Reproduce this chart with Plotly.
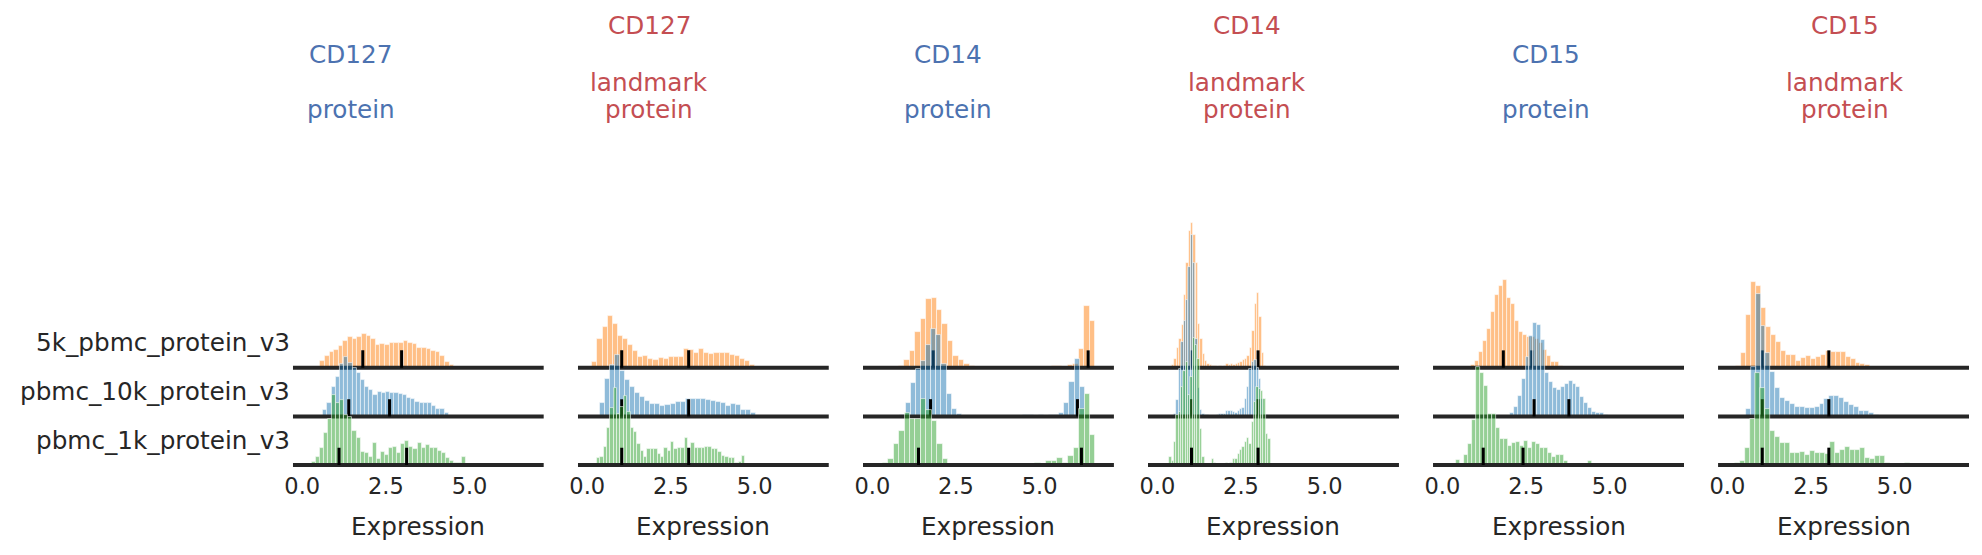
import plotly.graph_objects as go

# ---------------- data ----------------
MARKERS = ["CD127", "CD127", "CD14", "CD14", "CD15", "CD15"]
KINDS = ["protein", "landmark protein", "protein", "landmark protein", "protein", "landmark protein"]
SAMPLES = ["5k_pbmc_protein_v3", "pbmc_10k_protein_v3", "pbmc_1k_protein_v3"]
TICK_VALS = [0, 2.5, 5.0]
TICK_TEXT = ["0.0", "2.5", "5.0"]

# each histogram: (first bin edge, bin width, counts)
# CD127 protein
cd127_p_5k = (0.40, 0.138, [2, 20, 35, 46, 54, 65, 80, 93, 87, 93, 101, 96, 87, 69, 71, 69, 74, 74, 74, 81,
                            74, 71, 60, 60, 57, 50, 46, 35, 17, 7, 2])
cd127_p_10k = (0.50, 0.125, [2, 20, 41, 89, 118, 158, 180, 160, 145, 132, 110, 90, 80, 65, 73, 70, 73, 70, 71, 68,
                             65, 55, 53, 45, 41, 41, 41, 32, 23, 23, 10, 2])
cd127_p_1k = (0.28, 0.1216, [10, 25, 50, 95, 137, 210, 185, 195, 150, 145, 102, 80, 40, 35, 25, 65, 17, 40, 29, 52,
                             55, 35, 64, 73, 55, 47, 65, 52, 59, 50, 52, 42, 37, 22, 12, 7, 7, 25])
# CD127 landmark protein
cd127_l_5k = (0.15, 0.152, [17, 87, 122, 155, 132, 95, 87, 69, 50, 32, 35, 26, 24, 30, 27, 32, 32, 32, 57, 53,
                            44, 57, 44, 41, 44, 44, 44, 39, 36, 27, 20, 8, 2])
cd127_l_10k = (0.22, 0.151, [2, 41, 113, 155, 185, 138, 110, 89, 72, 60, 47, 39, 39, 32, 36, 39, 45, 45, 53, 53,
                             53, 53, 50, 47, 45, 41, 32, 39, 36, 20, 20, 12, 2])
cd127_l_1k = (0.28, 0.101, [20, 24, 55, 110, 170, 230, 152, 175, 207, 160, 110, 100, 62, 42, 24, 47, 47, 47, 32, 24,
                            52, 42, 69, 47, 50, 50, 80, 42, 65, 50, 52, 50, 55, 55, 47, 47, 38, 27, 24, 20,
                            20, 6, 8, 27])
# CD14 protein
cd14_p_5k = (0.79, 0.163, [4, 22, 49, 107, 145, 205, 208, 172, 130, 79, 34, 22, 10, 4, 0, 0, 0, 0, 0, 0,
                           0, 0, 0, 0, 0, 0, 0, 0, 4, 4, 0, 7, 10, 55, 184, 139])
cd14_p_10k = (0.84, 0.153, [5, 40, 100, 143, 168, 215, 263, 245, 158, 68, 23, 8, 2, 0, 0, 0, 0, 0, 0, 0,
                            0, 0, 0, 0, 4, 4, 2, 4, 2, 4, 4, 12, 40, 105, 173, 90])
cd14_p_1k = (0.31, 0.163, [7, 17, 62, 102, 157, 137, 137, 197, 164, 132, 62, 17, 4, 0, 0, 0, 0, 4, 0, 0,
                           0, 0, 0, 0, 0, 0, 0, 0, 7, 4, 12, 12, 22, 7, 27, 52, 167, 214, 89])
# CD14 landmark protein
cd14_l_5k = (0.44, 0.0704, [8, 25, 59, 87, 127, 217, 314, 409, 434, 397, 314, 130, 85, 42, 20, 12, 8, 6, 4, 2,
                            5, 3, 6, 10, 8, 12, 8, 10, 14, 18, 22, 25, 34, 60, 110, 190, 224, 152, 44, 5])
cd14_l_10k = (0.50, 0.0704, [7, 49, 144, 224, 286, 349, 449, 544, 461, 234, 86, 19, 7, 4, 4, 2, 2, 2, 4, 7,
                             7, 9, 17, 17, 17, 14, 12, 17, 24, 26, 54, 89, 144, 164, 171, 146, 114, 54, 6, 4])
cd14_l_1k = (0.354, 0.0704, [24, 12, 69, 149, 159, 234, 282, 309, 209, 264, 382, 359, 319, 109, 24, 0, 0, 0, 19, 6,
                             0, 0, 0, 0, 6, 0, 6, 19, 19, 32, 46, 54, 69, 82, 64, 129, 189, 234, 227, 221,
                             199, 92, 79])
# CD15 protein
cd15_p_5k = (0.854, 0.120, [7, 19, 46, 79, 115, 167, 217, 245, 262, 208, 190, 140, 107, 97, 92, 92, 87, 75, 54, 34,
                            17, 17, 5])
cd15_p_10k = (1.90, 0.117, [2, 12, 30, 63, 113, 180, 242, 282, 275, 230, 132, 105, 87, 80, 90, 97, 108, 97, 90, 60,
                            42, 25, 15, 12, 10, 5, 2])
cd15_p_1k = (0.418, 0.119, [14, 0, 30, 62, 135, 294, 275, 237, 152, 152, 110, 77, 77, 57, 65, 69, 57, 72, 50, 69,
                            62, 52, 52, 37, 25, 29, 29, 12, 0, 0, 0, 0, 0, 12])
# CD15 landmark protein
cd15_l_5k = (0.253, 0.149, [4, 44, 157, 257, 245, 179, 122, 97, 77, 50, 38, 38, 20, 29, 35, 26, 32, 38, 50, 47,
                            47, 47, 32, 26, 14, 11, 8])
cd15_l_10k = (0.55, 0.147, [23, 148, 368, 273, 190, 135, 85, 55, 47, 38, 30, 30, 27, 27, 30, 38, 52, 63, 63, 55,
                            44, 35, 30, 18, 18, 12, 5, 2, 2])
cd15_l_1k = (0.233, 0.149, [7, 12, 52, 137, 277, 232, 167, 102, 85, 65, 65, 37, 35, 40, 30, 42, 37, 35, 32, 70,
                            35, 45, 55, 45, 45, 52, 22, 19, 27, 27, 7, 0, 0, 0, 7])

HISTS = [
    [cd127_p_5k, cd127_p_10k, cd127_p_1k],
    [cd127_l_5k, cd127_l_10k, cd127_l_1k],
    [cd14_p_5k, cd14_p_10k, cd14_p_1k],
    [cd14_l_5k, cd14_l_10k, cd14_l_1k],
    [cd15_p_5k, cd15_p_10k, cd15_p_1k],
    [cd15_l_5k, cd15_l_10k, cd15_l_1k],
]

# two reference (median) marks per sample and panel
MARKS = [
    [[1.81, 2.97], [1.39, 2.61], [1.10, 3.12]],
    [[1.03, 3.03], [1.03, 3.03], [1.03, 3.03]],
    [[1.82, 6.45], [1.74, 6.13], [1.38, 6.25]],
    [[1.02, 3.01], [1.02, 3.01], [1.02, 3.01]],
    [[1.82, 2.67], [2.74, 3.78], [1.22, 2.41]],
    [[1.04, 3.03], [1.04, 3.03], [1.04, 3.03]],
]

# ---------------- style / layout ----------------
W, H = 1982, 555
FONT = "DejaVu Sans"
TEXT = "#262626"
BLUE_T = "#4C72B0"
RED_T = "#C44E52"
FILLS = ["rgba(255,127,14,0.5)", "rgba(31,119,180,0.5)", "rgba(44,160,44,0.5)"]
X_RANGE = [-0.28, 7.22]
PANEL_X0, PANEL_STEP, PANEL_W = 286, 286.2, 252
BASE_PX = [367.7, 416.5, 465.0]
DOM_BOTTOM_PX = 470
COUNTS_PER_PX = 3.0
MARK_H = 52
TITLE_X0, TITLE_STEP = 344, 300.0
LABEL_SIZE = 24.7
TICK_SIZE = 22.5


def py(p):
    return 1 - p / H


fig = go.Figure()
layout = dict(
    width=W, height=H, margin=dict(l=0, r=0, t=0, b=0),
    paper_bgcolor="white", plot_bgcolor="white", showlegend=False,
    barmode="overlay", bargap=0, font=dict(family=FONT, color=TEXT),
)
annotations = []

for p in range(6):
    xname = "x" if p == 0 else f"x{p + 1}"
    xkey = "xaxis" if p == 0 else f"xaxis{p + 1}"
    base_idx = p * 3 + 1
    x0 = (PANEL_X0 + p * PANEL_STEP) / W
    x1 = (PANEL_X0 + p * PANEL_STEP + PANEL_W) / W
    layout[xkey] = dict(
        domain=[x0, x1], range=X_RANGE, anchor="y" if base_idx == 1 else f"y{base_idx}",
        showgrid=False, zeroline=False, showline=False, ticks="",
        tickvals=TICK_VALS, ticktext=TICK_TEXT, tickfont=dict(size=TICK_SIZE, color=TEXT, family=FONT),
    )
    for r in range(3):
        idx = base_idx + r
        yname = "y" if idx == 1 else f"y{idx}"
        ykey = "yaxis" if idx == 1 else f"yaxis{idx}"
        b = BASE_PX[r]
        yax = dict(
            range=[COUNTS_PER_PX * (b - DOM_BOTTOM_PX), COUNTS_PER_PX * b],
            anchor=xname, showgrid=False, zeroline=False, showline=False,
            showticklabels=False, ticks="",
        )
        if r == 0:
            yax["domain"] = [py(DOM_BOTTOM_PX), 1]
        else:
            yax["overlaying"] = "y" if base_idx == 1 else f"y{base_idx}"
        layout[ykey] = yax

        start, width, counts = HISTS[p][r]
        centers = [start + (i + 0.5) * width for i in range(len(counts))]
        fig.add_trace(go.Bar(
            x=centers, y=counts, width=width, xaxis=xname, yaxis=yname,
            marker=dict(color=FILLS[r], line=dict(color="rgba(255,255,255,0.7)", width=0.8)),
            hoverinfo="skip",
        ))
        fig.add_trace(go.Scatter(
            x=X_RANGE, y=[0, 0], mode="lines", xaxis=xname, yaxis=yname,
            line=dict(color="#262626", width=4), hoverinfo="skip",
        ))
        mx, my = [], []
        for m in MARKS[p][r]:
            mx += [m, m, None]
            my += [0, MARK_H, None]
        fig.add_trace(go.Scatter(
            x=mx, y=my, mode="lines", xaxis=xname, yaxis=yname,
            line=dict(color="black", width=3), hoverinfo="skip",
        ))

    # x label
    annotations.append(dict(
        text="Expression", x=(x0 + x1) / 2, y=py(526), xref="paper", yref="paper",
        xanchor="center", yanchor="middle", showarrow=False,
        font=dict(size=LABEL_SIZE, color=TEXT, family=FONT),
    ))
    # titles
    is_landmark = KINDS[p].startswith("landmark")
    color = RED_T if is_landmark else BLUE_T
    lines = [MARKERS[p], ""] + KINDS[p].split(" ")
    ys = [26, 54, 82, 109.5][-len(lines):]
    tx = (TITLE_X0 + p * TITLE_STEP) / W
    for t, yy in zip(lines, ys):
        if not t:
            continue
        annotations.append(dict(
            text=t, x=tx, y=py(yy), xref="paper", yref="paper",
            xanchor="center", yanchor="middle", showarrow=False,
            font=dict(size=LABEL_SIZE, color=color, family=FONT),
        ))

# row labels
for r, s in enumerate(SAMPLES):
    annotations.append(dict(
        text=s, x=285 / W, y=py(BASE_PX[r] - 25), xref="paper", yref="paper",
        xanchor="right", yanchor="middle", showarrow=False,
        font=dict(size=LABEL_SIZE, color=TEXT, family=FONT),
    ))

layout["annotations"] = annotations
fig.update_layout(**layout)
fig.write_html("out.html")
